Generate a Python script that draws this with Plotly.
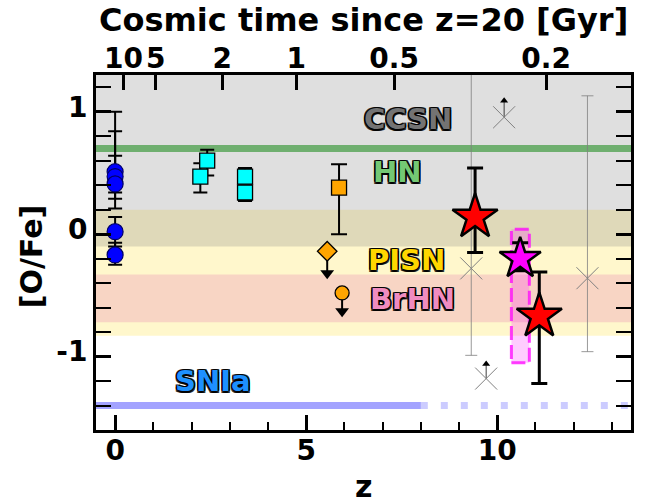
import plotly.graph_objects as go

# ---------------- data ----------------
# local (z=0) stars, blue circles
z_local = [0, 0, 0, 0, 0]
ofe_local = [0.51, 0.47, 0.41, 0.02, -0.17]
ofe_local_ep = [0.49, 0.37, 0.23, 0.12, 0.10]
ofe_local_em = [0.17, 0.18, 0.20, 0.12, 0.08]

# cyan squares
z_cyan = [2.23, 2.41, 3.40, 3.40]
ofe_cyan = [0.47, 0.60, 0.47, 0.34]
ofe_cyan_ep = [0.11, 0.09, 0.07, 0.05]
ofe_cyan_em = [0.13, 0.12, 0.05, 0.07]

# orange square
z_orsq = [5.86]
ofe_orsq = [0.38]
ofe_orsq_ep = [0.19]
ofe_orsq_em = [0.38]

# orange upper limits (diamond, circle)
z_ordia = [5.55]
ofe_ordia = [-0.14]
z_orcir = [5.94]
ofe_orcir = [-0.48]
upper_arrow_len = [0.18, 0.15]

# red stars
z_red = [9.42, 11.10]
ofe_red = [0.14, -0.67]
ofe_red_ep = [0.40, 0.36]
ofe_red_em = [0.29, 0.55]

# magenta star + range box
z_mag = [10.60]
ofe_mag = [-0.20]
ofe_mag_ep = [0.13]
ofe_mag_em = [0.10]
mag_box_z = [10.37, 10.84]
mag_box_ofe = [-1.05, 0.04]

# grey crosses with error bars
z_gray = [9.32, 12.36]
ofe_gray = [-0.28, -0.36]
ofe_gray_ep = [3.0, 1.49]
ofe_gray_em = [0.71, 0.60]

# grey crosses, lower limits
z_graylim = [10.18, 9.71]
ofe_graylim = [0.955, -1.18]
lower_arrow_len = [0.135, 0.12]

# yield ranges
ccsn_range = [-0.10, 2.0]
pisn_range = [-0.83, 0.20]
brhn_range = [-0.72, -0.33]
hn_value = 0.70
snia_value = -1.40
snia_solid_until = 8.0

# region labels: text, z, [O/Fe], colour
label_text = ["CCSN", "HN", "PISN", "BrHN", "SNIa"]
label_z = [7.66, 7.38, 7.62, 7.77, 2.57]
label_ofe = [0.94, 0.51, -0.21, -0.53, -1.20]
label_color = ["#737373", "#74c874", "#ffd700", "#f08cc0", "#1e90ff"]

# axes
x_range = [-0.5, 13.5]
y_range = [-1.6, 1.3]
x_ticks = [0, 5, 10]
y_ticks = [-1, 0, 1]
y_ticktext = ["-1", "0", "1"]
time_tick_z = [0.22, 1.06, 2.80, 4.74, 7.30, 11.28]
time_tick_text = ["10", "5", "2", "1", "0.5", "0.2"]

FONT = "DejaVu Sans"

fig = go.Figure()

def errs(ep, em):
    return dict(type="data", symmetric=False, array=ep, arrayminus=em)

# shapes: bands
shapes = []
shapes.append(dict(type="rect", xref="x domain", yref="y", x0=0, x1=1,
                   y0=pisn_range[0], y1=pisn_range[1],
                   fillcolor="rgba(255,215,0,0.2)", line_width=0, layer="below"))
shapes.append(dict(type="rect", xref="x domain", yref="y", x0=0, x1=1,
                   y0=brhn_range[0], y1=brhn_range[1],
                   fillcolor="rgba(232,137,180,0.3)", line_width=0, layer="below"))
shapes.append(dict(type="rect", xref="x domain", yref="y", x0=0, x1=1,
                   y0=ccsn_range[0], y1=ccsn_range[1],
                   fillcolor="rgba(128,128,128,0.25)", line_width=0, layer="below"))
shapes.append(dict(type="line", xref="x domain", yref="y", x0=0, x1=1,
                   y0=hn_value, y1=hn_value,
                   line=dict(color="rgba(0,128,0,0.5)", width=7), layer="below"))
shapes.append(dict(type="line", xref="x", yref="y", x0=x_range[0], x1=snia_solid_until,
                   y0=snia_value, y1=snia_value,
                   line=dict(color="rgba(0,0,255,0.36)", width=7), layer="below"))
shapes.append(dict(type="line", xref="x", yref="y", x0=snia_solid_until, x1=x_range[1],
                   y0=snia_value, y1=snia_value,
                   line=dict(color="rgba(0,0,255,0.2)", width=7, dash="7px,13px"), layer="below"))
shapes.append(dict(type="rect", xref="x", yref="y", x0=mag_box_z[0], x1=mag_box_z[1],
                   y0=mag_box_ofe[0], y1=mag_box_ofe[1],
                   fillcolor="rgba(255,0,255,0.2)",
                   line=dict(color="rgba(255,0,255,0.75)", width=3, dash="14px,5px"),
                   layer="below"))

# grey crosses with errors
fig.add_trace(go.Scatter(x=z_gray, y=ofe_gray, mode="markers",
    marker=dict(symbol="x-thin", size=22, line=dict(color="gray", width=1)),
    error_y=dict(errs(ofe_gray_ep, ofe_gray_em), color="rgba(128,128,128,0.8)", thickness=1, width=6),
    showlegend=False))

# lower-limit stems and arrows
for zz, yy, L in zip(z_graylim, ofe_graylim, lower_arrow_len):
    fig.add_trace(go.Scatter(x=[zz, zz], y=[yy, yy + L], mode="lines",
        line=dict(color="rgba(60,60,60,1)", width=1), showlegend=False))
fig.add_trace(go.Scatter(x=z_graylim, y=ofe_graylim, mode="markers",
    marker=dict(symbol="x-thin", size=22, line=dict(color="gray", width=1)), showlegend=False))
fig.add_trace(go.Scatter(x=z_graylim, y=[a + b for a, b in zip(ofe_graylim, lower_arrow_len)],
    mode="markers", marker=dict(symbol="triangle-up", size=7, color="black", line_width=0),
    showlegend=False))

# blue circles
fig.add_trace(go.Scatter(x=z_local, y=ofe_local, mode="markers",
    marker=dict(symbol="circle", size=16, color="blue", line=dict(color="#000066", width=1.2)),
    error_y=dict(errs(ofe_local_ep, ofe_local_em), color="black", thickness=2, width=7),
    showlegend=False))

# cyan squares
fig.add_trace(go.Scatter(x=z_cyan, y=ofe_cyan, mode="markers",
    marker=dict(symbol="square", size=15, color="cyan", line=dict(color="black", width=1.3)),
    error_y=dict(errs(ofe_cyan_ep, ofe_cyan_em), color="black", thickness=2, width=7),
    showlegend=False))

# orange square
fig.add_trace(go.Scatter(x=z_orsq, y=ofe_orsq, mode="markers",
    marker=dict(symbol="square", size=15, color="orange", line=dict(color="black", width=1.3)),
    error_y=dict(errs(ofe_orsq_ep, ofe_orsq_em), color="black", thickness=2, width=8),
    showlegend=False))

# orange upper limits
up_z = z_ordia + z_orcir
up_y = ofe_ordia + ofe_orcir
for zz, yy, L in zip(up_z, up_y, upper_arrow_len):
    fig.add_trace(go.Scatter(x=[zz, zz], y=[yy, yy - L], mode="lines",
        line=dict(color="black", width=2), showlegend=False))
fig.add_trace(go.Scatter(x=up_z, y=[a - b for a, b in zip(up_y, upper_arrow_len)],
    mode="markers", marker=dict(symbol="triangle-down", size=12, color="black", line_width=0),
    showlegend=False))
fig.add_trace(go.Scatter(x=z_ordia, y=ofe_ordia, mode="markers",
    marker=dict(symbol="diamond", size=15, color="orange", line=dict(color="black", width=1.3)),
    showlegend=False))
fig.add_trace(go.Scatter(x=z_orcir, y=ofe_orcir, mode="markers",
    marker=dict(symbol="circle", size=14, color="orange", line=dict(color="black", width=1.3)),
    showlegend=False))

# magenta star
fig.add_trace(go.Scatter(x=z_mag, y=ofe_mag, mode="markers",
    marker=dict(symbol="star", size=31, color="magenta", line=dict(color="black", width=2.5)),
    error_y=dict(errs(ofe_mag_ep, ofe_mag_em), color="black", thickness=3, width=8),
    showlegend=False))

# red stars
fig.add_trace(go.Scatter(x=z_red, y=ofe_red, mode="markers",
    marker=dict(symbol="star", size=34, color="red", line=dict(color="black", width=2.5)),
    error_y=dict(errs(ofe_red_ep, ofe_red_em), color="black", thickness=3, width=8),
    showlegend=False))

# dummy trace for the top axis
fig.add_trace(go.Scatter(x=[x_range[0]], y=[y_range[0]], xaxis="x2", mode="markers",
    marker=dict(opacity=0), showlegend=False, hoverinfo="skip"))

def outline(c):
    return (f"1.5px 1.5px 0 {c}, -1.5px -1.5px 0 {c}, 1.5px -1.5px 0 {c}, -1.5px 1.5px 0 {c}, "
            f"0 1.5px 0 {c}, 0 -1.5px 0 {c}, 1.5px 0 0 {c}, -1.5px 0 0 {c}")

annotations = []
for t, xx, yy, c in zip(label_text, label_z, label_ofe, label_color):
    annotations.append(dict(text=t, x=xx, y=yy, xref="x", yref="y",
        showarrow=False, xanchor="center", yanchor="middle",
        font=dict(family=FONT, size=29, weight="bold", color=c,
                  shadow=outline("rgba(0,0,0,0.8)"))))

# axis titles
annotations.append(dict(text="Cosmic time since z=20 [Gyr]", x=0.5, y=1.155,
    xref="paper", yref="paper", showarrow=False, xanchor="center", yanchor="middle",
    font=dict(family=FONT, size=32, weight="bold", color="black")))
annotations.append(dict(text="z", x=0.5, y=-0.16,
    xref="paper", yref="paper", showarrow=False, xanchor="center", yanchor="middle",
    font=dict(family=FONT, size=30, weight="bold", color="black")))
annotations.append(dict(text="[O/Fe]", x=-0.121, y=0.49, textangle=-90,
    xref="paper", yref="paper", showarrow=False, xanchor="center", yanchor="middle",
    font=dict(family=FONT, size=30, weight="bold", color="black")))

tickfont = dict(family=FONT, size=28, weight="bold", color="black")

fig.update_layout(
    template="none",
    width=651, height=503,
    margin=dict(l=96, r=20, t=75, b=73),
    paper_bgcolor="white", plot_bgcolor="white",
    shapes=shapes, annotations=annotations,
    font=dict(family=FONT, size=28, color="black"),
    xaxis=dict(range=x_range, tickvals=x_ticks, ticks="inside", ticklen=15, tickwidth=2.5,
               tickcolor="black", showline=True, linewidth=3, linecolor="black", mirror=True,
               showgrid=False, zeroline=False, automargin=False,
               minor=dict(dtick=1, ticks="inside", ticklen=8, tickwidth=2, tickcolor="black",
                          showgrid=False),
               tickfont=tickfont, ticklabelstandoff=-7),
    xaxis2=dict(range=x_range, overlaying="x", side="top", tickvals=time_tick_z,
                ticktext=time_tick_text, ticks="inside", ticklen=15, tickwidth=2.5,
                tickcolor="black", showline=False, showgrid=False, zeroline=False,
                automargin=False, tickfont=tickfont),
    yaxis=dict(range=y_range, tickvals=y_ticks, ticktext=y_ticktext, ticks="inside",
               ticklen=15, tickwidth=2.5, tickcolor="black", showline=True, linewidth=3,
               linecolor="black", mirror="allticks", showgrid=False, zeroline=False,
               automargin=False, ticklabelshift=-5,
               minor=dict(dtick=0.2, ticks="inside", ticklen=8, tickwidth=2, tickcolor="black",
                          showgrid=False),
               tickfont=tickfont),
)

fig.write_html("out.html")
